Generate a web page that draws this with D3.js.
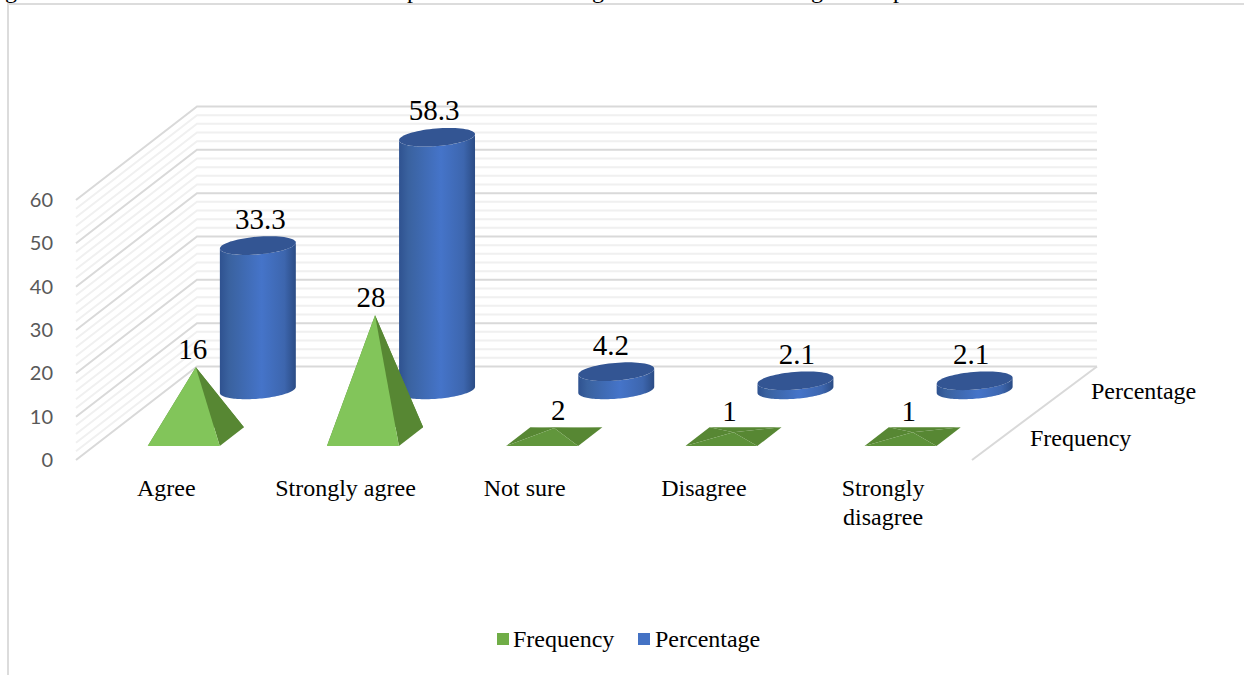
<!DOCTYPE html>
<html><head><meta charset="utf-8">
<script src="https://cdn.jsdelivr.net/npm/d3@7"></script>
<style>html,body{margin:0;padding:0;background:#fff}svg{display:block}</style>
</head><body><svg id="c" width="1244" height="675"></svg>
<script>
const categories = ["Agree", "Strongly agree", "Not sure", "Disagree", "Strongly disagree"];
const frequency = [16, 28, 2, 1, 1];
const percentage = [33.3, 58.3, 4.2, 2.1, 2.1];
const seriesNames = ["Frequency", "Percentage"];
const yTicks = [0, 10, 20, 30, 40, 50, 60];

const serif = "'Liberation Serif','Times New Roman',serif";
const svg = d3.select("#c");
const defs = svg.append("defs");

const x = d3.scaleBand().domain(categories).range([76, 972]).padding(0);
const y = d3.scaleLinear().domain([0, 60]).range([460, 200]);
const dX = d3.scaleLinear().domain([0, 1]).range([0, 121]);
const dY = d3.scaleLinear().domain([0, 1]).range([0, -93.5]);
const P = (px, depth, v) => [px + dX(depth), y(v) + dY(depth)];
const poly = pts => "M" + pts.map(p => p.join(",")).join("L") + "Z";

// remnants of the cropped caption above the chart frame (only descenders show)
const crop = svg.append("g").attr("font-family", serif).attr("font-size", 24).attr("fill", "#000").attr("text-anchor", "middle");
[[11, "g"], [413, "p"], [598, "g"], [817, "g"], [899, "p"]].forEach(([px, ch]) =>
  crop.append("text").attr("x", px).attr("y", -2).text(ch));

// chart frame
svg.append("path").attr("d", "M8,675V4H1244").attr("fill", "none").attr("stroke", "#dcdcdc").attr("stroke-width", 2);

// walls
const grid = svg.append("g").attr("fill", "none");
const backRight = 976;
d3.range(0, 60.01, 2).map(v => ({v, major: v % 10 === 0})).sort((a, b) => a.major - b.major).forEach(({v, major}) => {
  const a = P(76, 0, v), b = P(76, 1, v), c = P(backRight, 1, v);
  grid.append("path").attr("d", `M${a}L${b}L${c}`)
    .attr("stroke", major ? "#d9d9d9" : "#f0f0f0").attr("stroke-width", 2);
});
grid.append("path").attr("d", `M${P(972, 0, 0)}L${P(backRight, 1, 0)}`).attr("stroke", "#d9d9d9").attr("stroke-width", 2);

// value axis
const axis = svg.append("g").attr("transform", "translate(53,0)")
  .call(d3.axisLeft(y).tickValues(yTicks).tickSize(0).tickPadding(0));
axis.select(".domain").remove();
axis.selectAll("text").attr("font-family", "Lato").attr("font-size", 20).attr("fill", "#595959");

// bars
const halfW = 36, halfD = 0.1, freqDepth = 0.25, pctDepth = 0.75, cylNudge = 1.5;
const grad = defs.append("linearGradient").attr("id", "cyl");
[[0, "#2f5290"], [0.12, "#3a629f"], [0.55, "#4574c9"], [0.85, "#3d66ae"], [1, "#2b4c85"]].forEach(([o, c]) =>
  grad.append("stop").attr("offset", o).attr("stop-color", c));

const cyl = svg.append("g"), pyr = svg.append("g");
const silhouette = Math.atan2(dX(1) * halfD, halfW); // parameter of the ellipse's rightmost point
const rim = (cx, v, from, to, n) => d3.range(0, n + 1).map(k => {
  const t = from + (to - from) * k / n;
  return P(cx + halfW * Math.cos(t), pctDepth + halfD * Math.sin(t), v);
});
const pctLabelShift = [2.5, -3, -5.5, 1.5, -3.5];
const freqLabelShift = [-3, -4, 4, -4, -4];

categories.forEach((cat, i) => {
  const cx = x(cat) + x.bandwidth() / 2;
  // cylinder
  const v = percentage[i], c2 = cx + cylNudge;
  const base = rim(c2, 0, silhouette, silhouette - Math.PI, 60);
  const cap = rim(c2, v, silhouette - Math.PI, silhouette, 60);
  cyl.append("path").attr("d", poly(base.concat(cap))).attr("fill", "url(#cyl)");
  cyl.append("path").attr("d", poly(rim(c2, v, 0, 2 * Math.PI, 72))).attr("fill", "#335593");
  const top = P(c2, pctDepth, v);
  cyl.append("text").attr("x", top[0] + pctLabelShift[i]).attr("y", top[1] - 17)
    .attr("text-anchor", "middle").attr("font-family", serif).attr("font-size", 29).attr("fill", "#000").text(v);

  // pyramid
  const f = frequency[i];
  const fl = P(cx - halfW, freqDepth - halfD, 0), fr = P(cx + halfW, freqDepth - halfD, 0),
        br = P(cx + halfW, freqDepth + halfD, 0), bl = P(cx - halfW, freqDepth + halfD, 0),
        ap = P(cx, freqDepth, f);
  const frontCol = d3.interpolateRgb("#5a8c36", "#82c55a")(Math.min(1, f / 12));
  pyr.append("path").attr("d", poly([bl, br, ap])).attr("fill", "#578733");
  pyr.append("path").attr("d", poly([fl, bl, ap])).attr("fill", "#578733");
  pyr.append("path").attr("d", poly([fr, br, ap])).attr("fill", "#578733");
  pyr.append("path").attr("d", poly([fl, fr, ap])).attr("fill", frontCol);
  pyr.append("text").attr("x", ap[0] + freqLabelShift[i]).attr("y", ap[1] - (f === 1 ? 11 : 8))
    .attr("text-anchor", "middle").attr("font-family", serif).attr("font-size", 29).attr("fill", "#000").text(f);
});

// category labels
const catG = svg.append("g").attr("font-family", serif).attr("font-size", 24).attr("fill", "#000").attr("text-anchor", "middle");
categories.forEach(cat => {
  const cx = x(cat) + x.bandwidth() / 2 + 0.7;
  const parts = cat === "Strongly disagree" ? ["Strongly", "disagree"] : [cat];
  parts.forEach((s, k) => catG.append("text").attr("x", cx).attr("y", 496 + k * 29).text(s));
});

// depth labels
const depthG = svg.append("g").attr("font-family", serif).attr("font-size", 24).attr("fill", "#000");
depthG.append("text").attr("x", 1030).attr("y", 446).text(seriesNames[0]);
depthG.append("text").attr("x", 1091).attr("y", 399).text(seriesNames[1]);

// legend
const legend = svg.append("g").attr("font-family", serif).attr("font-size", 24).attr("fill", "#000");
[[497, 513, "#70ad47"], [638, 655, "#4472c4"]].forEach(([sx, tx, col], i) => {
  legend.append("rect").attr("x", sx).attr("y", 633).attr("width", 12).attr("height", 12).attr("fill", col);
  legend.append("text").attr("x", tx).attr("y", 647).text(seriesNames[i]);
});
</script></body></html>
